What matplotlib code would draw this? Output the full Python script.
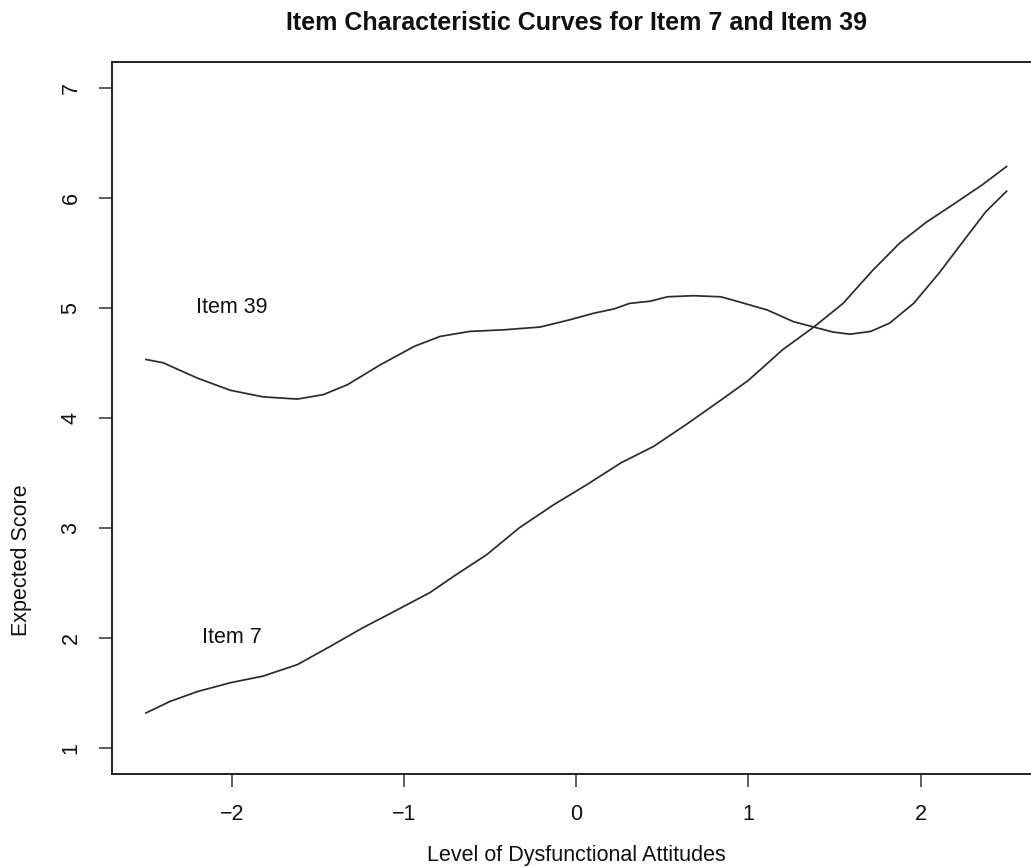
import matplotlib
matplotlib.use("Agg")
import matplotlib.pyplot as plt

# ---- data ----
item39_x = [-2.50, -2.40, -2.20, -2.01, -1.82, -1.62, -1.47, -1.33, -1.14, -0.94,
            -0.79, -0.62, -0.42, -0.21, -0.04, 0.10, 0.22, 0.31, 0.43, 0.53,
            0.68, 0.84, 0.91, 1.11, 1.26, 1.38, 1.49, 1.59, 1.71, 1.82,
            1.96, 2.11, 2.27, 2.38, 2.50]
item39_y = [4.53, 4.50, 4.36, 4.25, 4.19, 4.17, 4.21, 4.30, 4.48, 4.65,
            4.74, 4.785, 4.80, 4.825, 4.89, 4.95, 4.99, 5.04, 5.06, 5.10,
            5.11, 5.10, 5.07, 4.98, 4.875, 4.825, 4.78, 4.76, 4.785, 4.86,
            5.04, 5.32, 5.65, 5.875, 6.06]

item7_x = [-2.50, -2.36, -2.20, -2.01, -1.82, -1.62, -1.43, -1.24, -1.08, -0.85,
           -0.71, -0.52, -0.33, -0.13, 0.06, 0.26, 0.45, 0.64, 0.84, 1.00,
           1.20, 1.38, 1.55, 1.725, 1.88, 2.035, 2.19, 2.36, 2.50]
item7_y = [1.315, 1.42, 1.51, 1.59, 1.65, 1.755, 1.92, 2.09, 2.22, 2.41,
           2.56, 2.755, 3.00, 3.21, 3.39, 3.59, 3.74, 3.94, 4.16, 4.34,
           4.62, 4.825, 5.04, 5.345, 5.59, 5.78, 5.94, 6.12, 6.285]

x_ticks = [-2, -1, 0, 1, 2]
y_ticks = [1, 2, 3, 4, 5, 6, 7]
labels = ["Item 39", "Item 7"]
label_x = [-2.0, -2.0]
label_y = [5.0, 2.0]

title = "Item Characteristic Curves for Item 7 and Item 39"
xlabel = "Level of Dysfunctional Attitudes"
ylabel = "Expected Score"

# ---- figure ----
W, H = 1031, 867
plt.rcParams['font.family'] = ['Liberation Sans', 'DejaVu Sans']
fig = plt.figure(figsize=(W / 100, H / 100), dpi=100)

left, right, top, bottom = 111.5, 1041, 61.5, 774
ax = fig.add_axes([left / W, 1 - bottom / H, (right - left) / W, (bottom - top) / H])

line_col = '#2b2b2b'
txt_col = '#111111'
fs = 15.5
ax.plot(item39_x, item39_y, color=line_col, lw=1.25)
ax.plot(item7_x, item7_y, color=line_col, lw=1.25)
for t, lx, ly in zip(labels, label_x, label_y):
    ax.text(lx, ly, t, ha='center', va='center', fontsize=fs, color=txt_col)

# R-style 4% axis extension
xr = (min(item39_x + item7_x), max(item39_x + item7_x))
yr = (min(y_ticks), max(y_ticks))
dx = (xr[1] - xr[0]) * 0.04
dy = (yr[1] - yr[0]) * 0.04
ax.set_xlim(xr[0] - dx, xr[1] + dx)
ax.set_ylim(yr[0] - dy, yr[1] + dy)

ax.set_xticks(x_ticks)
ax.set_xticklabels([str(v).replace('-', '\u2212') for v in x_ticks])
ax.set_yticks(y_ticks)
ax.set_yticklabels([str(v) for v in y_ticks], rotation=90, va='center')

for s in ax.spines.values():
    s.set_linewidth(1.4)
    s.set_color('#222222')
ax.tick_params(axis='both', direction='out', length=9.5, width=1.1, color='#333333',
               labelsize=fs, labelcolor=txt_col, pad=12)

fig.text(576 / W, 1 - 23 / H, title, ha='center', va='center',
         fontsize=18, fontweight='bold', color=txt_col)
fig.text(576 / W, 1 - 855 / H, xlabel, ha='center', va='center', fontsize=fs, color=txt_col)
fig.text(22 / W, 1 - 560 / H, ylabel, ha='center', va='center', rotation=90, fontsize=fs,
         color=txt_col)

fig.savefig("out.png", dpi=100)
